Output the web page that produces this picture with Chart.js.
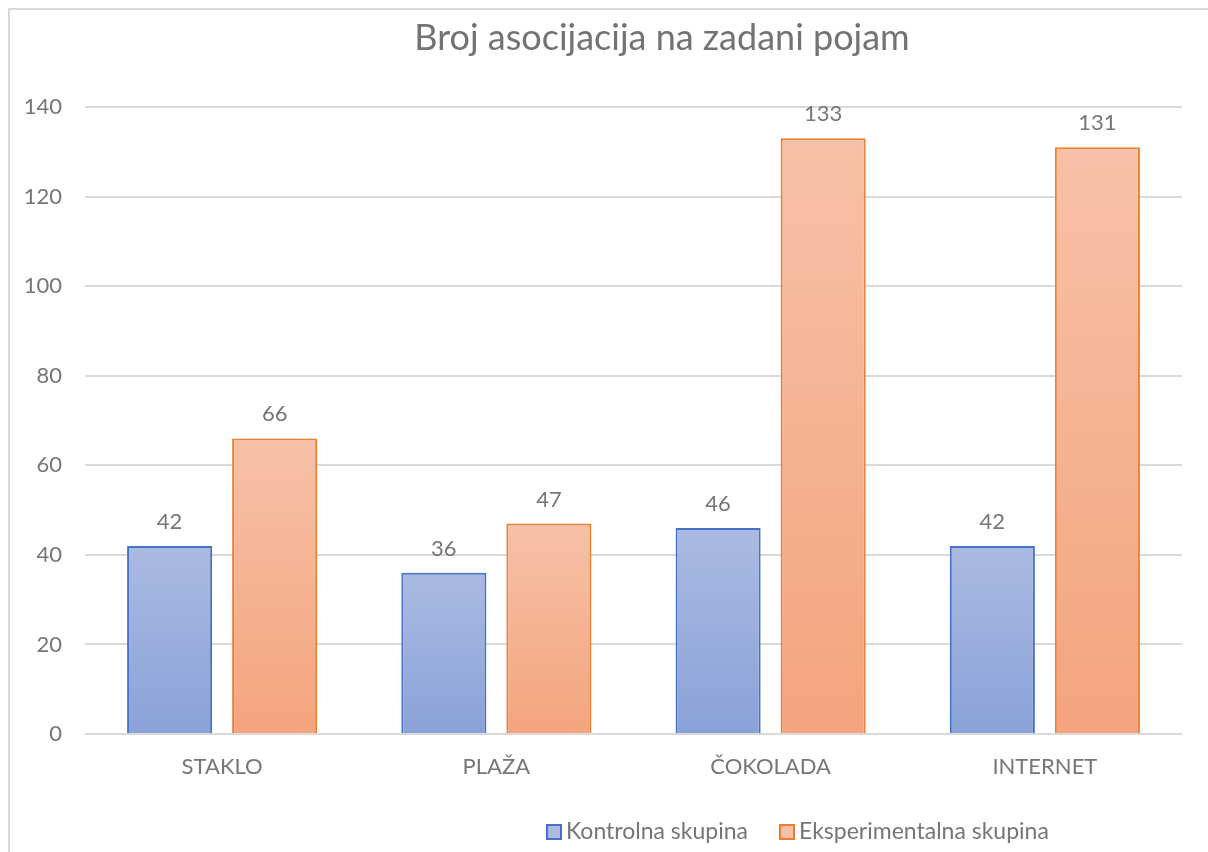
<!DOCTYPE html>
<html><head><meta charset="utf-8">
<script src="https://cdn.jsdelivr.net/npm/chart.js@4/dist/chart.umd.min.js"></script>
<style>html,body{margin:0;padding:0;background:#fff;overflow:hidden}#wrap{position:relative;width:1208px;height:852px}</style>
</head><body><div id="wrap"><canvas id="c" width="1208" height="852"></canvas></div>
<script>
const chartTitle = 'Broj asocijacija na zadani pojam';
const categories = ['STAKLO', 'PLAŽA', 'ČOKOLADA', 'INTERNET'];
const seriesNames = ['Kontrolna skupina', 'Eksperimentalna skupina'];
const kontrolna = [42, 36, 46, 42];
const eksperimentalna = [66, 47, 133, 131];
const yTickValues = [0, 20, 40, 60, 80, 100, 120, 140];

const FONT = 'Lato';
const TEXT = '#767676';
const COLORS = [
  {top: '#abbae2', bottom: '#8aa2d8', border: '#4472c4'},
  {top: '#f7c1a7', bottom: '#f4a47e', border: '#ed7d31'}
];

function gradFor(idx) {
  return function (ctx) {
    const c = COLORS[idx];
    const chart = ctx.chart;
    if (!chart.chartArea || ctx.type !== 'data') return c.top;
    const ys = chart.scales.y;
    const y = ys.getPixelForValue(ctx.raw);
    const y0 = ys.getPixelForValue(0);
    if (!isFinite(y) || !isFinite(y0) || y === y0) return c.top;
    const g = chart.ctx.createLinearGradient(0, y, 0, y0);
    g.addColorStop(0, c.top);
    g.addColorStop(1, c.bottom);
    return g;
  };
}

const decor = {
  id: 'decor',
  beforeDraw(chart) {
    const ctx = chart.ctx;
    ctx.save();
    ctx.fillStyle = '#fff';
    ctx.fillRect(0, 0, chart.width, chart.height);
    ctx.strokeStyle = '#d9d9d9';
    ctx.lineWidth = 2;
    ctx.strokeRect(9, 9, 1400, 1000);
    ctx.restore();
  },
  afterDatasetsDraw(chart) {
    const ctx = chart.ctx;
    ctx.save();
    ctx.font = '22px ' + FONT;
    ctx.fillStyle = TEXT;
    ctx.textAlign = 'center';
    ctx.textBaseline = 'alphabetic';
    chart.data.datasets.forEach((ds, di) => {
      const meta = chart.getDatasetMeta(di);
      meta.data.forEach((bar, i) => {
        ctx.fillText(String(ds.data[i]), bar.x, bar.y - 17);
      });
    });
    ctx.restore();
  },
  afterDraw(chart) {
    const ctx = chart.ctx;
    ctx.save();
    // title
    ctx.font = '36px ' + FONT;
    ctx.fillStyle = '#737373';
    ctx.textAlign = 'center';
    ctx.textBaseline = 'middle';
    ctx.fillText(chartTitle, 662, 38);
    // legend
    ctx.font = '23px ' + FONT;
    ctx.textAlign = 'left';
    ctx.textBaseline = 'middle';
    let x = 547;
    const yc = 832;
    seriesNames.forEach((name, i) => {
      const c = COLORS[i];
      ctx.fillStyle = c.top;
      ctx.fillRect(x, yc - 7, 14, 14);
      ctx.strokeStyle = c.border;
      ctx.lineWidth = 2;
      ctx.strokeRect(x, yc - 7, 14, 14);
      ctx.fillStyle = TEXT;
      ctx.fillText(name, x + 19, yc);
      x += 19 + ctx.measureText(name).width + 32;
    });
    ctx.restore();
  }
};

new Chart(document.getElementById('c'), {
  type: 'bar',
  data: {
    labels: categories,
    datasets: [
      {label: seriesNames[0], data: kontrolna, backgroundColor: gradFor(0), borderColor: COLORS[0].border, borderWidth: 2},
      {label: seriesNames[1], data: eksperimentalna, backgroundColor: gradFor(1), borderColor: COLORS[1].border, borderWidth: 2}
    ]
  },
  options: {
    responsive: false,
    animation: false,
    devicePixelRatio: 1,
    layout: {padding: {left: 0, right: 26, top: 107, bottom: 58}},
    datasets: {bar: {categoryPercentage: 0.766, barPercentage: 0.81}},
    plugins: {legend: {display: false}, title: {display: false}, tooltip: {enabled: false}},
    scales: {
      x: {
        grid: {display: false},
        border: {display: false},
        ticks: {color: TEXT, font: {family: FONT, size: 22}, padding: 12},
        afterFit(s) { s.height = 60; }
      },
      y: {
        min: 0, max: 140,
        afterBuildTicks(s) { s.ticks = yTickValues.map(v => ({value: v})); },
        grid: {color: '#d9d9d9', lineWidth: 2, drawTicks: false},
        border: {display: false},
        ticks: {color: TEXT, font: {family: FONT, size: 22}, padding: 23},
        afterFit(s) { s.width = 85; }
      }
    }
  },
  plugins: [decor]
});
</script></body></html>
